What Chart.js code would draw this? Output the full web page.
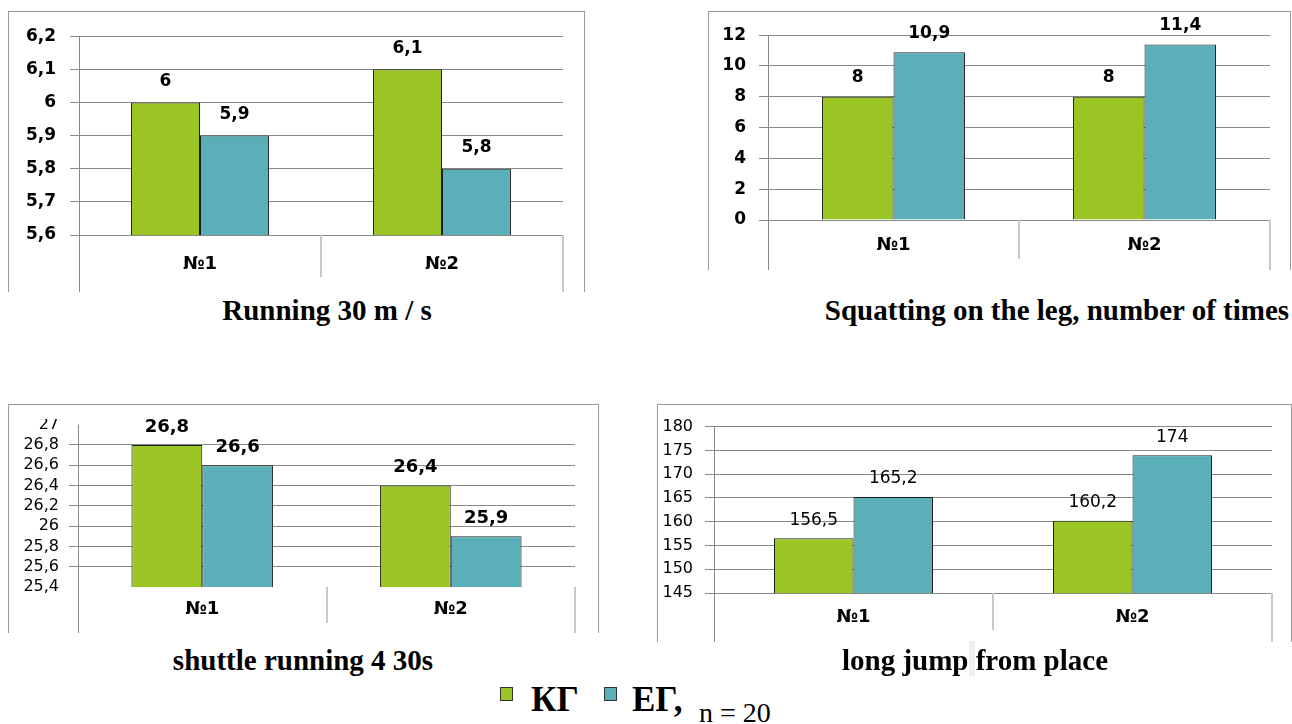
<!DOCTYPE html>
<html>
<head>
<meta charset="utf-8">
<script src="https://cdn.jsdelivr.net/npm/chart.js@4.4.1/dist/chart.umd.min.js"></script>
<style>
  html, body { margin: 0; padding: 0; background: #fff; }
  body { width: 1292px; height: 724px; position: relative; overflow: hidden; }
  .box { position: absolute; border-left: 1px solid #9a9a9a; border-top: 1px solid #9a9a9a; border-right: 1px solid #9a9a9a; box-sizing: border-box; }
  canvas { position: absolute; }
  .title { position: absolute; font-family: "Liberation Serif", "Times New Roman", serif; font-weight: bold; font-size: 29px; color: #000; white-space: nowrap; transform: translate(-50%, -50%); line-height: 1; }
  .lg { position: absolute; font-family: "Liberation Serif", "Times New Roman", serif; color: #000; white-space: nowrap; line-height: 1; }
  .sq { position: absolute; width: 13px; height: 14px; border: 1px solid #333; box-sizing: border-box; }
</style>
</head>
<body>
<div class="box" style="left:8px;top:11px;width:577px;height:281px;"></div>
<div class="box" style="left:708px;top:11px;width:583px;height:259px;"></div>
<div class="box" style="left:8px;top:404px;width:591px;height:229px;"></div>
<div class="box" style="left:657px;top:404px;width:635px;height:238px;"></div>

<canvas id="c1" width="575" height="280" style="left:9px;top:12px;"></canvas>
<canvas id="c2" width="581" height="258" style="left:709px;top:12px;"></canvas>
<canvas id="c3" width="589" height="228" style="left:9px;top:405px;"></canvas>
<canvas id="c4" width="633" height="237" style="left:658px;top:405px;"></canvas>

<div class="title" style="left:327px;top:310px;">Running 30 m / s</div>
<div class="title" style="left:1057px;top:310px;">Squatting on the leg, number of times</div>
<div class="title" style="left:303px;top:660px;">shuttle running 4 30s</div>
<div style="position:absolute;left:969px;top:641px;width:6px;height:35px;background:#efefef;"></div>
<div class="title" style="left:975px;top:660px;">long jump from place</div>

<div class="sq" style="left:500px;top:687px;background:#9AC524;"></div>
<div class="lg" style="left:531px;top:682px;font-size:35px;font-weight:bold;">КГ</div>
<div class="sq" style="left:604px;top:687px;background:#5AAFB9;"></div>
<div class="lg" style="left:632px;top:682px;font-size:35px;font-weight:bold;">ЕГ,</div>
<div class="lg" style="left:699px;top:699px;font-size:28px;">n = 20</div>

<script>
// ---------- data ----------
const categories = ['№1', '№2'];
const seriesNames = ['КГ', 'ЕГ'];

const run30_KG = [6, 6.1];
const run30_EG = [5.9, 5.8];
const run30_ticks = [5.6, 5.7, 5.8, 5.9, 6.0, 6.1, 6.2];

const squat_KG = [8, 8];
const squat_EG = [10.9, 11.4];
const squat_ticks = [0, 2, 4, 6, 8, 10, 12];

const shuttle_KG = [26.8, 26.4];
const shuttle_EG = [26.6, 25.9];
const shuttle_ticks = [25.4, 25.6, 25.8, 26.0, 26.2, 26.4, 26.6, 26.8, 27.0];

const jump_KG = [156.5, 160.2];
const jump_EG = [165.2, 174];
const jump_ticks = [145, 150, 155, 160, 165, 170, 175, 180];

// ---------- styling ----------
const GREEN = '#9AC524';
const TEAL = '#5AAFB9';
const GRID = '#898989';
const SEP = '#c8c8c8';
const FONT = '"DejaVu Sans", Verdana, sans-serif';

function fmt(v) { return String(Math.round(v * 10) / 10).replace('.', ','); }

const decoPlugin = {
  id: 'deco',
  afterDraw(chart, args, opts) {
    const ctx = chart.ctx, a = chart.chartArea, x = chart.scales.x;
    const H = chart.height;
    ctx.save();
    ctx.strokeStyle = GRID; ctx.lineWidth = 1;
    ctx.beginPath(); ctx.moveTo(a.left + 0.5, a.top); ctx.lineTo(a.left + 0.5, H); ctx.stroke();
    const mid = (x.getPixelForValue(0) + x.getPixelForValue(1)) / 2;
    ctx.strokeStyle = SEP; ctx.lineWidth = 2;
    ctx.beginPath(); ctx.moveTo(Math.round(mid), a.bottom); ctx.lineTo(Math.round(mid), H - opts.sepGap); ctx.stroke();
    ctx.beginPath(); ctx.moveTo(a.right, a.bottom); ctx.lineTo(a.right, H); ctx.stroke();
    if (opts.clipTop) {
      // the reference picture is cut just above its top tick label
      ctx.fillStyle = '#fff';
      ctx.fillRect(0, 0, a.left - 2, opts.clipTop);
    }
    ctx.restore();
  }
};

const labelPlugin = {
  id: 'vlabels',
  afterDatasetsDraw(chart, args, opts) {
    const ctx = chart.ctx;
    ctx.save();
    ctx.font = opts.font;
    ctx.fillStyle = '#000';
    ctx.textAlign = 'center';
    ctx.textBaseline = 'middle';
    chart.data.datasets.forEach((ds, i) => {
      const meta = chart.getDatasetMeta(i);
      meta.data.forEach((el, j) => {
        ctx.fillText(fmt(ds.data[j]), el.x, el.y - opts.offset);
      });
    });
    ctx.restore();
  }
};

function makeChart(id, kg, eg, tickArr, cfg) {
  const hidden = cfg.hideTicks || [];
  new Chart(document.getElementById(id), {
    type: 'bar',
    data: {
      labels: categories,
      datasets: [
        { label: seriesNames[0], data: kg, backgroundColor: GREEN, borderColor: '#1e1e1e', borderWidth: 1, borderSkipped: 'bottom' },
        { label: seriesNames[1], data: eg, backgroundColor: TEAL, borderColor: '#1e1e1e', borderWidth: 1, borderSkipped: 'bottom' }
      ]
    },
    options: {
      responsive: false,
      animation: false,
      devicePixelRatio: 1,
      layout: { padding: { top: cfg.top, right: cfg.right, left: 0, bottom: 0 } },
      datasets: { bar: { categoryPercentage: 0.57, barPercentage: 1 } },
      plugins: {
        legend: { display: false },
        tooltip: { enabled: false },
        deco: { sepGap: cfg.sepGap, clipTop: cfg.clipTop || 0 },
        vlabels: { font: cfg.labelFont, offset: cfg.labelOffset }
      },
      scales: {
        x: {
          grid: { display: false, drawTicks: false },
          border: { display: false },
          ticks: { color: '#000', font: { family: FONT, size: 18, weight: 'bold' }, padding: cfg.xPad, maxRotation: 0 },
          afterFit(s) { s.height = cfg.xHeight; }
        },
        y: {
          min: tickArr[0],
          max: tickArr[tickArr.length - 1],
          afterBuildTicks(s) { s.ticks = tickArr.map(v => ({ value: v })); },
          grid: {
            color: c => (c.tick && hidden.includes(c.tick.value)) ? 'rgba(0,0,0,0)' : GRID,
            tickColor: c => (c.tick && hidden.includes(c.tick.value)) ? 'rgba(0,0,0,0)' : GRID,
            tickLength: 9,
            lineWidth: 1
          },
          border: { display: false },
          ticks: {
            autoSkip: false,
            color: '#000',
            font: { family: FONT, size: cfg.yFontSize, weight: cfg.yWeight },
            padding: cfg.yPad,
            callback: v => fmt(v)
          },
          afterFit(s) { s.width = cfg.yWidth; }
        }
      }
    },
    plugins: [decoPlugin, labelPlugin]
  });
}

makeChart('c1', run30_KG, run30_EG, run30_ticks, {
  top: 21, right: 21, xHeight: 57, yWidth: 70, yPad: 14, xPad: 19, sepGap: 15,
  yFontSize: 17, yWeight: 'bold', labelFont: 'bold 17px ' + FONT, labelOffset: 21
});
makeChart('c2', squat_KG, squat_EG, squat_ticks, {
  top: 20, right: 20, xHeight: 50, yWidth: 59, yPad: 13, xPad: 15, sepGap: 11,
  yFontSize: 17, yWeight: 'bold', labelFont: 'bold 17px ' + FONT, labelOffset: 19
});
makeChart('c3', shuttle_KG, shuttle_EG, shuttle_ticks, {
  top: 16, right: 23, xHeight: 46, yWidth: 69, yPad: 10, xPad: 12, sepGap: 10,
  yFontSize: 16, yWeight: 'normal', labelFont: 'bold 18px ' + FONT, labelOffset: 18,
  hideTicks: [27, 25.4], clipTop: 14
});
makeChart('c4', jump_KG, jump_EG, jump_ticks, {
  top: 17, right: 19, xHeight: 49, yWidth: 56, yPad: 12, xPad: 14, sepGap: 12,
  yFontSize: 16, yWeight: 'normal', labelFont: '17px ' + FONT, labelOffset: 18
});
</script>
</body>
</html>
